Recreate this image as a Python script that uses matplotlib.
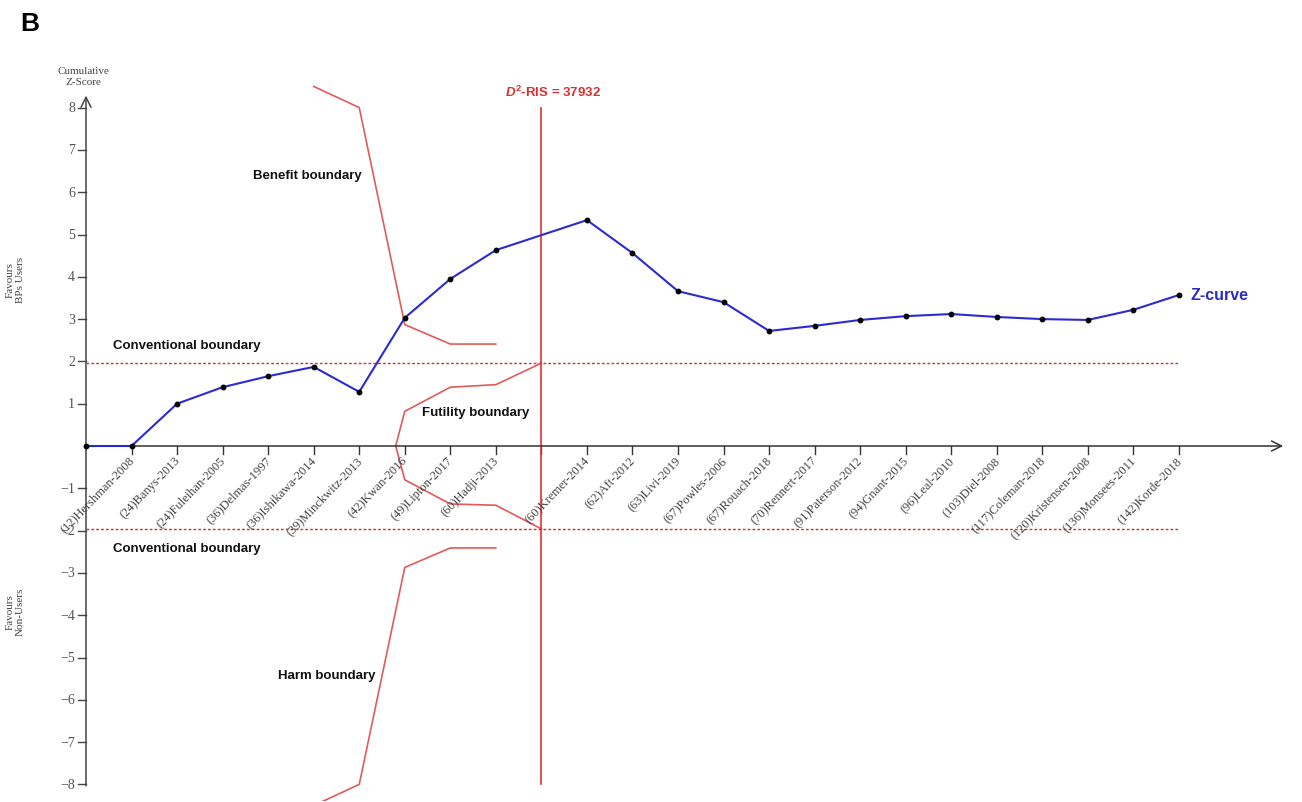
import matplotlib.pyplot as plt

# trial sequence along the information axis (index 10 is the RIS, no trial there)
trial_labels = ["(12)Hershman-2008", "(24)Banys-2013", "(24)Fuleihan-2005", "(36)Delmas-1997",
                "(36)Ishikawa-2014", "(39)Minckwitz-2013", "(42)Kwan-2016", "(49)Lipton-2017",
                "(60)Hadji-2013", "(60)Kremer-2014", "(62)Aft-2012", "(63)Livi-2019",
                "(67)Powles-2006", "(67)Rouach-2018", "(70)Rennert-2017", "(91)Paterson-2012",
                "(94)Gnant-2015", "(96)Leal-2010", "(103)Diel-2008", "(117)Coleman-2018",
                "(120)Kristensen-2008", "(136)Monsees-2011", "(142)Korde-2018"]
trial_pos = [1, 2, 3, 4, 5, 6, 7, 8, 9, 11, 12, 13, 14, 15, 16, 17, 18, 19, 20, 21, 22, 23, 24]
z_curve = [0.0, 1.0, 1.39, 1.65, 1.87, 1.28, 3.03, 3.95, 4.63, 5.34, 4.56, 3.66,
           3.40, 2.72, 2.84, 2.98, 3.07, 3.12, 3.05, 3.00, 2.98, 3.22, 3.57]

ris_pos = 10
ris_label = "37932"
conventional = 1.96

benefit_x = [5, 6, 7, 8, 9]
benefit_z = [8.5, 8.0, 2.87, 2.41, 2.41]
harm_z = [-z for z in benefit_z]

futility_x = [6.8, 7, 8, 9, 10]
futility_upper = [0.0, 0.82, 1.39, 1.45, 1.96]
futility_lower = [0.0, -0.80, -1.37, -1.40, -1.96]

plt.rcParams["mathtext.fontset"] = "custom"
plt.rcParams["mathtext.rm"] = "Liberation Sans:bold"
plt.rcParams["mathtext.bf"] = "Liberation Sans:bold"
plt.rcParams["mathtext.it"] = "Liberation Sans:italic:bold"

W, H = 1302, 803
fig = plt.figure(figsize=(W / 100, H / 100), dpi=100)

# axes placed so that x index 0 -> px 86 and z = 0 -> px 447
x0_px, x_unit = 86, 45.54
y0_px, y_unit = 447, 42.3
xlim = (-0.5, 26.5)
ylim = (-8.4, 9.0)
left = x0_px + xlim[0] * x_unit
right = x0_px + xlim[1] * x_unit
top = y0_px - ylim[1] * y_unit
bottom = y0_px - ylim[0] * y_unit
ax = fig.add_axes([left / W, 1 - bottom / H, (right - left) / W, (bottom - top) / H])
ax.set_xlim(*xlim)
ax.set_ylim(*ylim)
ax.axis("off")

serif = "Liberation Serif"
sans = "Liberation Sans"
red = "#e25a5a"
blue = "#2b2bd0"

# axes with arrows
ax.annotate("", xy=(26.35, 0), xytext=(0, 0),
            arrowprops=dict(arrowstyle="->", color="#333333", lw=1.1, mutation_scale=18))
ax.annotate("", xy=(0, 8.35), xytext=(0, -8.1),
            arrowprops=dict(arrowstyle="->", color="#444444", lw=1.1, mutation_scale=18))

# y ticks
for v in range(-8, 9):
    if v == 0:
        continue
    ax.plot([-8 / x_unit, 0], [v, v], color="#444444", lw=1)
    ax.text(-11 / x_unit, v, str(v) if v > 0 else "\u2212" + str(-v), ha="right", va="center",
            fontsize=10, family=serif, color="#555555")

# x ticks and trial labels
for p in trial_pos + [ris_pos]:
    ax.plot([p, p], [0, -8 / y_unit], color="#333333", lw=1)
for p, lab in zip(trial_pos, trial_labels):
    ax.text(p + 0.02, -12 / y_unit, lab, rotation=46, rotation_mode="anchor",
            ha="right", va="center", fontsize=9, family=serif, color="#444444")

# conventional boundaries
ax.plot([0, trial_pos[-1]], [conventional, conventional], color="#cc3333", lw=1, ls=(0, (2, 1.5)))
ax.plot([0, trial_pos[-1]], [-conventional, -conventional], color="#cc3333", lw=1, ls=(0, (2, 1.5)))

# monitoring boundaries
ax.plot(benefit_x, benefit_z, color=red, lw=1.2)
ax.plot(benefit_x, harm_z, color=red, lw=1.2)
ax.plot(futility_x, futility_upper, color=red, lw=1.2)
ax.plot(futility_x, futility_lower, color=red, lw=1.2)

# required information size
ax.plot([ris_pos, ris_pos], [-8, 8], color="#e8302f", lw=1.2)
ax.text(ris_pos + 0.26, 8.2, r"$\mathit{D}^{\mathrm{2}}$-RIS = " + ris_label, ha="center",
        va="bottom", fontsize=9.5, family=sans, weight="bold", color="#d93030")

# cumulative Z-curve
ax.plot([0] + trial_pos, [0.0] + z_curve, color=blue, lw=1.5, marker="o", markersize=3.2,
        markerfacecolor="black", markeredgecolor="black", zorder=5)
ax.text(24.26, 3.59, "Z-curve", ha="left", va="center", fontsize=11.5, family=sans,
        weight="bold", color="#2a2acc")

# boundary labels
lbl = dict(fontsize=9.5, family=sans, weight="bold", color="#111111")
ax.text(4.87, 6.41, "Benefit boundary", ha="center", va="center", **lbl)
ax.text(0.59, 2.39, "Conventional boundary", ha="left", va="center", **lbl)
ax.text(0.59, -2.41, "Conventional boundary", ha="left", va="center", **lbl)
ax.text(8.56, 0.80, "Futility boundary", ha="center", va="center", **lbl)
ax.text(5.29, -5.41, "Harm boundary", ha="center", va="center", **lbl)

# figure annotations
fig.text(83 / W, 1 - 77 / H, "Cumulative\nZ-Score", ha="center", va="center", fontsize=8,
         family=serif, color="#444444", linespacing=1.15)
fig.text(15 / W, 1 - 280 / H, "Favours\nBPs Users", ha="center", va="center", rotation=90,
         fontsize=8, family=serif, color="#444444", linespacing=1.15)
fig.text(15 / W, 1 - 612 / H, "Favours\nNon-Users", ha="center", va="center", rotation=90,
         fontsize=8, family=serif, color="#444444", linespacing=1.15)
fig.text(20 / W, 1 - 24 / H, "B", ha="left", va="center", fontsize=19, family=sans, weight="bold")

fig.savefig("out.png", dpi=100, facecolor="white")
